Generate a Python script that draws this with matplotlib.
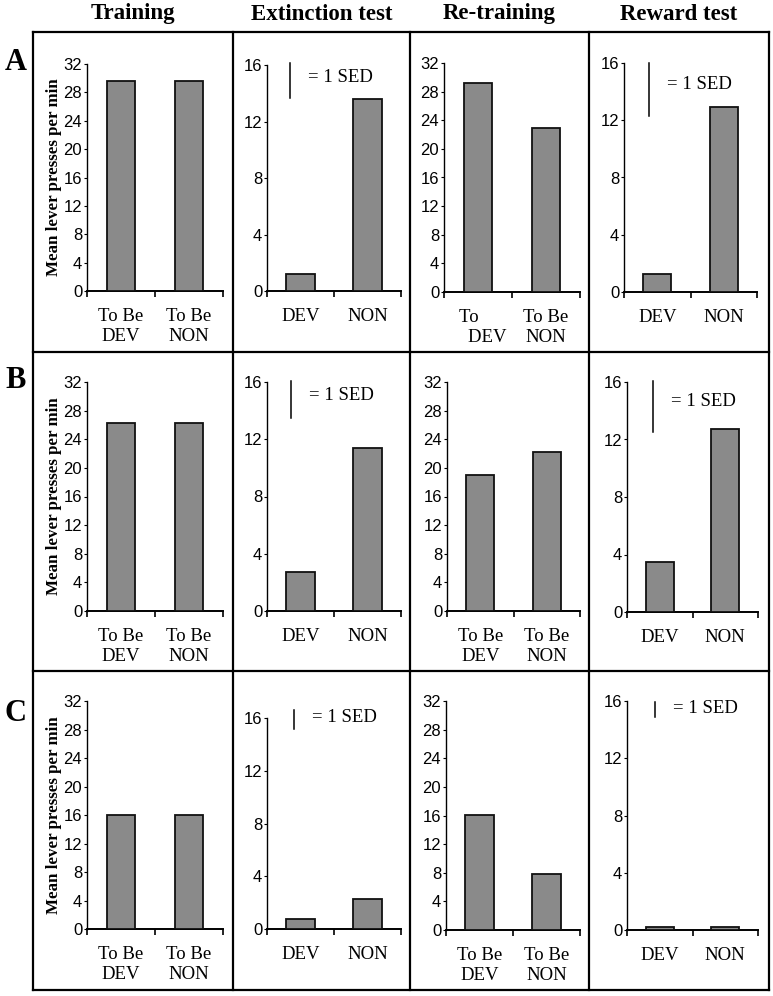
import matplotlib
matplotlib.use("Agg")
import matplotlib.pyplot as plt
from matplotlib.lines import Line2D

W, H = 773, 996  # pixels

col_titles = ["Training", "Extinction test", "Re-training", "Reward test"]
row_letters = ["A", "B", "C"]

# mean lever presses per min, [DEV, NON] for rows A, B, C
training = [[29.6, 29.6], [26.3, 26.3], [16.0, 16.0]]
extinction = [[1.2, 13.6], [2.7, 11.4], [0.75, 2.3]]
retraining = [[29.2, 22.9], [19.0, 22.2], [16.1, 7.8]]
reward = [[1.25, 12.9], [3.5, 12.7], [0.2, 0.2]]

# length of the "= 1 SED" bar
sed_extinction = [2.5, 2.65, 1.4]
sed_reward = [3.7, 3.6, 1.05]

to_be = ["To Be\nDEV", "To Be\nNON"]
plain = ["DEV", "NON"]
retrain_labels = [["To    \n    DEV", "To Be\nNON"], to_be, to_be]

ylab = "Mean lever presses per min"

serif = "Liberation Serif"
sans = "Liberation Sans"

# axes boxes in pixels: x0, x1, ytop, ybottom
boxes = [
    [(87, 223, 64, 291), (267, 401, 65, 291), (444, 580, 63, 292), (624, 757, 63, 292)],
    [(87, 223, 382, 611), (267, 401, 382, 611), (447, 580, 382, 611), (627, 758, 382, 612)],
    [(87, 223, 701, 929), (267, 401, 718, 929), (446, 580, 701, 930), (627, 758, 701, 930)],
]
sed_top = [[16.15, 16.0], [16.1, 16.1], [16.6, 15.9]]
sed_x = [[0.34, 0.38], [0.36, 0.40], [0.40, 0.43]]

col_x = [33, 233, 410, 589, 769]
row_y = [32, 352, 671, 990]

fig = plt.figure(figsize=(W / 100, H / 100), dpi=100)


def px(x, y):
    return x / W, 1 - y / H


def make_axes(box):
    x0, x1, yt, yb = box
    return fig.add_axes([x0 / W, 1 - yb / H, (x1 - x0) / W, (yb - yt) / H])


for r in range(3):
    panels = [
        (training[r], to_be, 32, None),
        (extinction[r], plain, 16, (sed_extinction[r], sed_top[r][0], sed_x[r][0])),
        (retraining[r], retrain_labels[r], 32, None),
        (reward[r], plain, 16, (sed_reward[r], sed_top[r][1], sed_x[r][1])),
    ]
    for c, (vals, labels, ymax, sed) in enumerate(panels):
        ax = make_axes(boxes[r][c])
        ax.bar([0.5, 1.5], vals, width=0.42, color="#8a8a8a",
               edgecolor="#111111", linewidth=1.3, zorder=3)
        ax.set_xlim(0, 2)
        ax.set_ylim(0, ymax)
        ax.set_yticks(range(0, ymax + 1, 4))
        ax.set_xticks([0.5, 1.5])
        ax.set_xticks([0, 1, 2], minor=True)
        ax.set_xticklabels(labels, fontfamily=serif, fontsize=13.5, linespacing=1.25)
        for t in ax.get_yticklabels():
            t.set_fontfamily(sans)
            t.set_fontsize(12)
        ax.tick_params(axis="x", which="major", length=0, pad=12)
        ax.tick_params(axis="x", which="minor", length=4, width=1.2, direction="out")
        ax.tick_params(axis="y", length=2.5, width=0.8, pad=1)
        ax.spines["top"].set_visible(False)
        ax.spines["right"].set_visible(False)
        ax.spines["left"].set_linewidth(1.0)
        ax.spines["bottom"].set_linewidth(1.4)
        ax.patch.set_alpha(0)
        if c == 0:
            ax.set_ylabel(ylab, fontfamily=serif, fontweight="bold", fontsize=12.2)
            ax.yaxis.set_label_coords(-0.185, 0.5)
        if sed is not None:
            length, top, xs = sed
            ax.plot([xs, xs], [top, top - length], color="black", lw=1.1,
                    clip_on=False, zorder=4)
            ax.text(xs + 0.27, top - length * 0.4, "= 1 SED", fontfamily=serif,
                    fontsize=13.5, ha="left", va="center")

# panel frames
for x in col_x:
    fig.add_artist(Line2D([x / W] * 2, [1 - row_y[0] / H, 1 - row_y[-1] / H],
                          color="black", lw=1.6))
for y in row_y:
    fig.add_artist(Line2D([col_x[0] / W, col_x[-1] / W], [1 - y / H] * 2,
                          color="black", lw=1.6))

for c, title in enumerate(col_titles):
    xc = (col_x[c] + col_x[c + 1]) / 2
    fig.text(*px(xc, 14), title, fontfamily=serif, fontweight="bold",
             fontsize=16.5, ha="center", va="center")

for r, letter in enumerate(row_letters):
    yc = [62, 380, 713][r]
    fig.text(*px(16, yc), letter, fontfamily=serif, fontweight="bold",
             fontsize=22, ha="center", va="center")

fig.savefig("out.png", dpi=100, facecolor="white")
